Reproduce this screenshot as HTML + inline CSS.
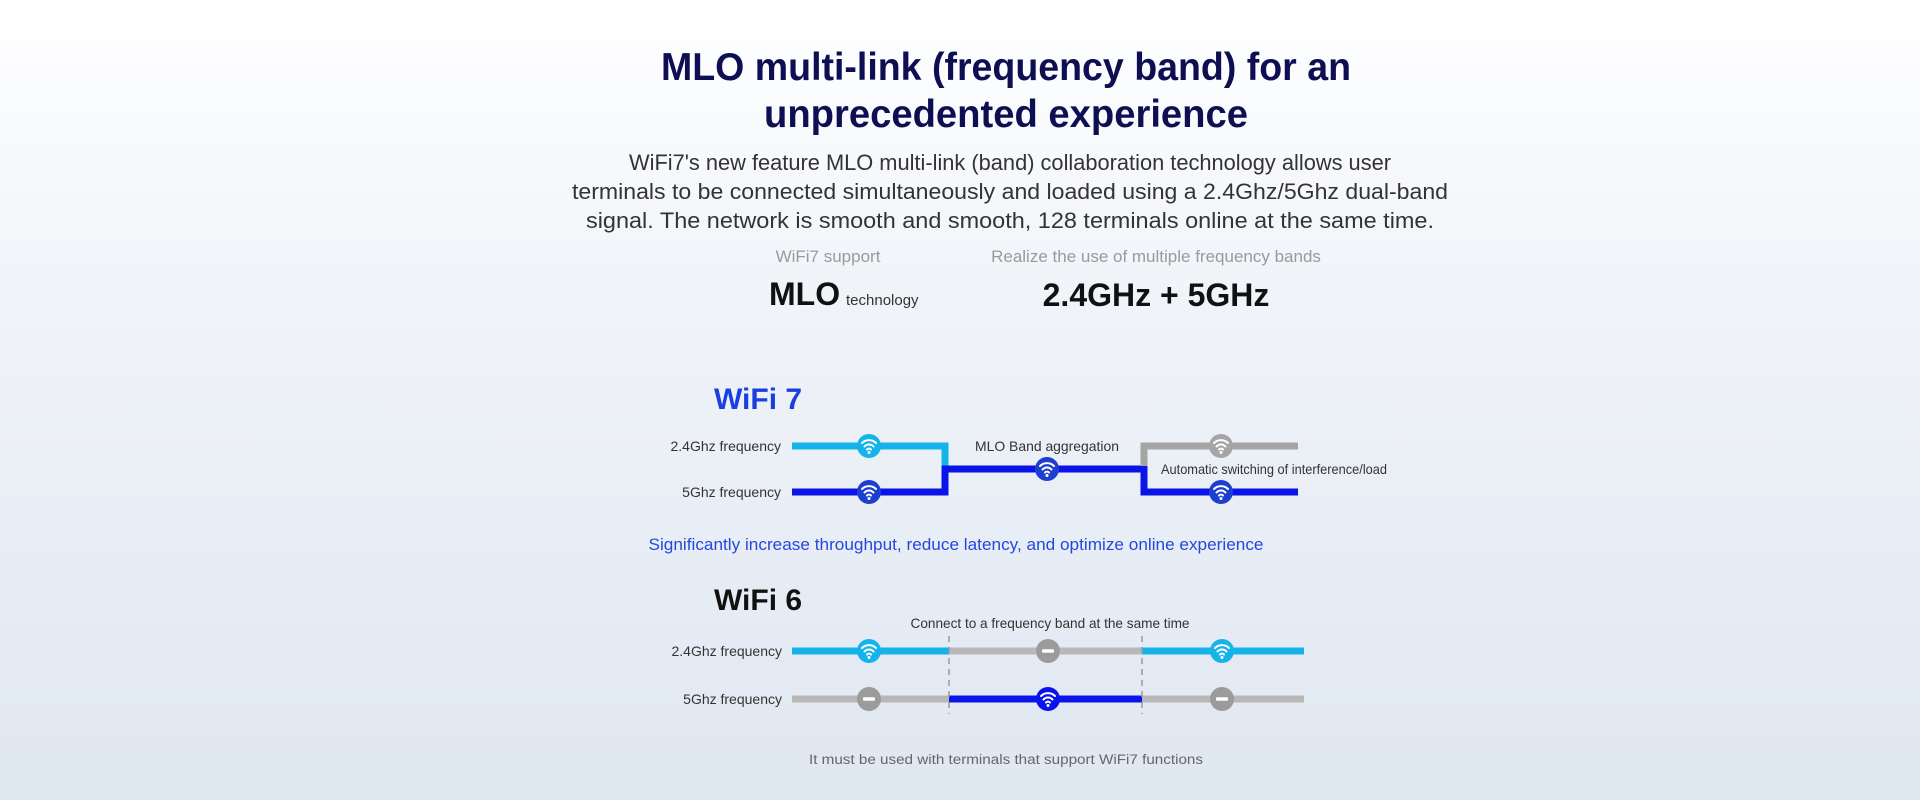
<!DOCTYPE html>
<html><head><meta charset="utf-8"><style>
html,body{margin:0;padding:0;}
body{width:1920px;height:800px;overflow:hidden;background:linear-gradient(#ffffff 0%,#f1f4f9 35%,#dfe7f1 100%);font-family:"Liberation Sans",sans-serif;}
svg{display:block}
</style></head><body>
<svg width="1920" height="800" viewBox="0 0 1920 800" xmlns="http://www.w3.org/2000/svg" font-family="Liberation Sans, sans-serif">
<defs>
<g id="wf">
<path d="M-7,-3 A10,10 0 0 1 7,-3" fill="none" stroke="#fff" stroke-width="2" stroke-linecap="round"/>
<path d="M-4.5,0.5 A6,6 0 0 1 4.5,0.5" fill="none" stroke="#fff" stroke-width="2" stroke-linecap="round"/>
<path d="M-2,3.5 A2.8,2.8 0 0 1 2,3.5" fill="none" stroke="#fff" stroke-width="2" stroke-linecap="round"/>
<circle cx="0" cy="6.5" r="1.5" fill="#fff"/>
</g>
<g id="mn"><rect x="-6" y="-1.8" width="12" height="3.6" rx="1" fill="#fff"/></g>
</defs>
<g text-anchor="middle" fill="#0d0f52" font-weight="bold" font-size="39">
<text x="1006" y="80" textLength="690" lengthAdjust="spacingAndGlyphs">MLO multi-link (frequency band) for an</text>
<text x="1006" y="127" textLength="484" lengthAdjust="spacingAndGlyphs">unprecedented experience</text>
</g>
<g text-anchor="middle" fill="#333" font-size="22">
<text x="1010" y="170" textLength="762" lengthAdjust="spacingAndGlyphs">WiFi7's new feature MLO multi-link (band) collaboration technology allows user</text>
<text x="1010" y="199" textLength="876" lengthAdjust="spacingAndGlyphs">terminals to be connected simultaneously and loaded using a 2.4Ghz/5Ghz dual-band</text>
<text x="1010" y="228" textLength="848" lengthAdjust="spacingAndGlyphs">signal. The network is smooth and smooth, 128 terminals online at the same time.</text>
</g>
<g text-anchor="middle" fill="#9a9a9a" font-size="17">
<text x="828" y="262">WiFi7 support</text>
<text x="1156" y="262">Realize the use of multiple frequency bands</text>
</g>
<text x="769" y="305" font-size="32" font-weight="bold" fill="#111">MLO</text>
<text x="846" y="305" font-size="15" fill="#333">technology</text>
<text x="1156" y="306" text-anchor="middle" font-size="32" font-weight="bold" fill="#111">2.4GHz + 5GHz</text>

<text x="714" y="409" font-size="30" font-weight="bold" fill="#1a3fe0">WiFi 7</text>
<g font-size="14" fill="#333">
<text x="781" y="451" text-anchor="end">2.4Ghz frequency</text>
<text x="781" y="497" text-anchor="end">5Ghz frequency</text>
<text x="1047" y="451" text-anchor="middle" textLength="144" lengthAdjust="spacingAndGlyphs">MLO Band aggregation</text>
<text x="1161" y="474" textLength="226" lengthAdjust="spacingAndGlyphs">Automatic switching of interference/load</text>
</g>
<g fill="none" stroke-width="7">
<polyline points="792,446 945,446 945,469" stroke="#14b4ea"/>
<polyline points="792,492 945,492 945,466" stroke="#0a14e8"/>
<polyline points="942,469 1144,469" stroke="#0a14e8"/>
<polyline points="1298,446 1144,446 1144,472" stroke="#a5a5a5"/>
<polyline points="1144,466 1144,492 1298,492" stroke="#0a14e8"/>
</g>
<circle cx="869" cy="446" r="12" fill="#14b4ea"/><use href="#wf" x="869" y="446"/>
<circle cx="869" cy="492" r="12" fill="#1d3fd0"/><use href="#wf" x="869" y="492"/>
<circle cx="1047" cy="469" r="12" fill="#1d3fd0"/><use href="#wf" x="1047" y="469"/>
<circle cx="1221" cy="446" r="12" fill="#a5a5a5"/><use href="#wf" x="1221" y="446"/>
<circle cx="1221" cy="492" r="12" fill="#1d3fd0"/><use href="#wf" x="1221" y="492"/>

<text x="956" y="550" text-anchor="middle" font-size="16.5" fill="#2448dc" textLength="615" lengthAdjust="spacingAndGlyphs">Significantly increase throughput, reduce latency, and optimize online experience</text>

<text x="714" y="610" font-size="30" font-weight="bold" fill="#111">WiFi 6</text>
<text x="1050" y="628" text-anchor="middle" font-size="14" fill="#333" textLength="279" lengthAdjust="spacingAndGlyphs">Connect to a frequency band at the same time</text>
<g font-size="14" fill="#333" text-anchor="end">
<text x="782" y="656">2.4Ghz frequency</text>
<text x="782" y="704">5Ghz frequency</text>
</g>
<g stroke-width="7">
<line x1="792" y1="651" x2="949" y2="651" stroke="#14b4ea"/>
<line x1="949" y1="651" x2="1142" y2="651" stroke="#b8b8b8"/>
<line x1="1142" y1="651" x2="1304" y2="651" stroke="#14b4ea"/>
<line x1="792" y1="699" x2="949" y2="699" stroke="#b8b8b8"/>
<line x1="949" y1="699" x2="1142" y2="699" stroke="#0a14e8"/>
<line x1="1142" y1="699" x2="1304" y2="699" stroke="#b8b8b8"/>
</g>
<g stroke="#999" stroke-width="1.5" stroke-dasharray="6,5">
<line x1="949" y1="636" x2="949" y2="714"/>
<line x1="1142" y1="636" x2="1142" y2="714"/>
</g>
<circle cx="869" cy="651" r="12" fill="#14b4ea"/><use href="#wf" x="869" y="651"/>
<circle cx="1048" cy="651" r="12" fill="#9b9b9b"/><use href="#mn" x="1048" y="651"/>
<circle cx="1222" cy="651" r="12" fill="#14b4ea"/><use href="#wf" x="1222" y="651"/>
<circle cx="869" cy="699" r="12" fill="#9b9b9b"/><use href="#mn" x="869" y="699"/>
<circle cx="1048" cy="699" r="12" fill="#0a14e8"/><use href="#wf" x="1048" y="699"/>
<circle cx="1222" cy="699" r="12" fill="#9b9b9b"/><use href="#mn" x="1222" y="699"/>

<text x="1006" y="764" text-anchor="middle" font-size="13.5" fill="#666" textLength="394" lengthAdjust="spacingAndGlyphs">It must be used with terminals that support WiFi7 functions</text>
</svg>
</body></html>
